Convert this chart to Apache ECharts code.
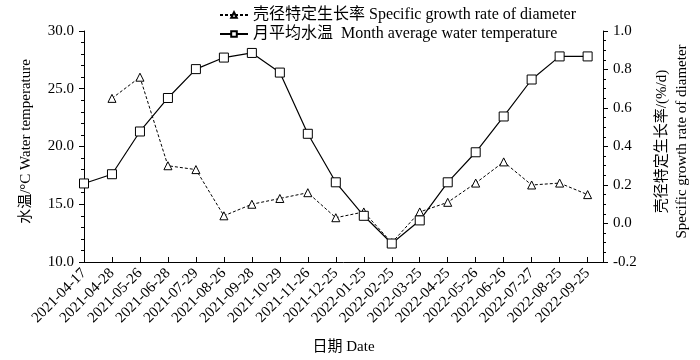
<!DOCTYPE html>
<html>
<head>
<meta charset="utf-8">
<script src="https://cdn.jsdelivr.net/npm/echarts@6/dist/echarts.min.js"></script>
<style>html,body{margin:0;padding:0;background:#fff;}#c{width:700px;height:360px;}</style>
</head>
<body>
<div id="c"></div>
<script>
var dates = ['2021-04-17','2021-04-28','2021-05-26','2021-06-28','2021-07-29','2021-08-26','2021-09-28','2021-10-29','2021-11-26','2021-12-25','2022-01-25','2022-02-25','2022-03-25','2022-04-25','2022-05-26','2022-06-26','2022-07-27','2022-08-25','2022-09-25'];
var waterTemp = [16.8,17.6,21.3,24.2,26.7,27.7,28.1,26.4,21.1,16.9,14.0,11.6,13.6,16.9,19.5,22.6,25.8,27.8,27.8];
var growthRate = [null,0.65,0.76,0.30,0.28,0.04,0.10,0.13,0.16,0.03,0.06,-0.10,0.06,0.11,0.21,0.32,0.20,0.21,0.15];
var nameGrowth = '壳径特定生长率 Specific growth rate of diameter';
var nameTemp = '月平均水温  Month average water temperature';

var FONT = "'Liberation Serif','Noto Sans CJK SC',serif";
var chart = echarts.init(document.getElementById('c'));
var tempData = waterTemp.map(function(v,i){return [i,v];});
var growthData = [];
growthRate.forEach(function(v,i){ if(v!==null) growthData.push([i,v]); });

chart.setOption({
  animation:false,
  backgroundColor:'#fff',
  textStyle:{fontFamily:FONT,color:'#000'},
  legend:{
    orient:'vertical', left:214, top:2, itemGap:3, itemWidth:28, itemHeight:7,
    textStyle:{fontFamily:FONT,fontSize:16,color:'#000'},
    data:[nameGrowth,nameTemp]
  },
  grid:{left:84,right:90,top:31,bottom:97},
  xAxis:{
    type:'value', min:0, max:18.55, interval:1,
    name:'日期 Date', nameLocation:'middle', nameGap:78,
    nameTextStyle:{fontFamily:FONT,fontSize:15,color:'#000'},
    axisLine:{show:true,onZero:false,lineStyle:{color:'#000',width:1}},
    axisTick:{show:true,inside:true,length:5,lineStyle:{color:'#000'}},
    splitLine:{show:false},
    axisLabel:{rotate:45,fontFamily:FONT,fontSize:15,color:'#000',margin:9,showMaxLabel:false,
      formatter:function(v){return Number.isInteger(v)?dates[v]:'';}}
  },
  yAxis:[{
    type:'value', min:10, max:30, interval:5, position:'left',
    name:'水温/°C Water temperature', nameLocation:'middle', nameRotate:90, nameGap:50,
    nameTextStyle:{fontFamily:FONT,fontSize:15,color:'#000',padding:[0,0,0,10]},
    axisLine:{show:true,lineStyle:{color:'#000',width:1}},
    axisTick:{show:true,length:5,lineStyle:{color:'#000'}},
    minorTick:{show:true,splitNumber:5,length:3,lineStyle:{color:'#000'}},
    splitLine:{show:false},
    axisLabel:{fontFamily:FONT,fontSize:15,color:'#000',margin:10,formatter:function(v){return v.toFixed(1);}}
  },{
    type:'value', min:-0.2, max:1.0, interval:0.2, position:'right',
    name:'壳径特定生长率/(%/d)\nSpecific growth rate of diameter', nameLocation:'middle', nameRotate:90, nameGap:49,
    nameTextStyle:{fontFamily:FONT,fontSize:15,color:'#000',lineHeight:20,padding:[0,0,0,10]},
    axisLine:{show:true,lineStyle:{color:'#000',width:1}},
    axisTick:{show:true,length:5,lineStyle:{color:'#000'}},
    minorTick:{show:true,splitNumber:4,length:3,lineStyle:{color:'#000'}},
    splitLine:{show:false},
    axisLabel:{fontFamily:FONT,fontSize:15,color:'#000',margin:10,formatter:function(v){return v.toFixed(1);}}
  }],
  series:[{
    name:nameGrowth, type:'line', yAxisIndex:1, data:growthData,
    symbol:'triangle', symbolSize:8, showAllSymbol:true,
    lineStyle:{color:'#000',width:1,type:[3,2]},
    itemStyle:{color:'#fff',borderColor:'#000',borderWidth:1}
  },{
    name:nameTemp, type:'line', yAxisIndex:0, data:tempData,
    symbol:'rect', symbolSize:9, showAllSymbol:true,
    lineStyle:{color:'#000',width:1.2},
    itemStyle:{color:'#fff',borderColor:'#000',borderWidth:1}
  }]
});
</script>
</body>
</html>
